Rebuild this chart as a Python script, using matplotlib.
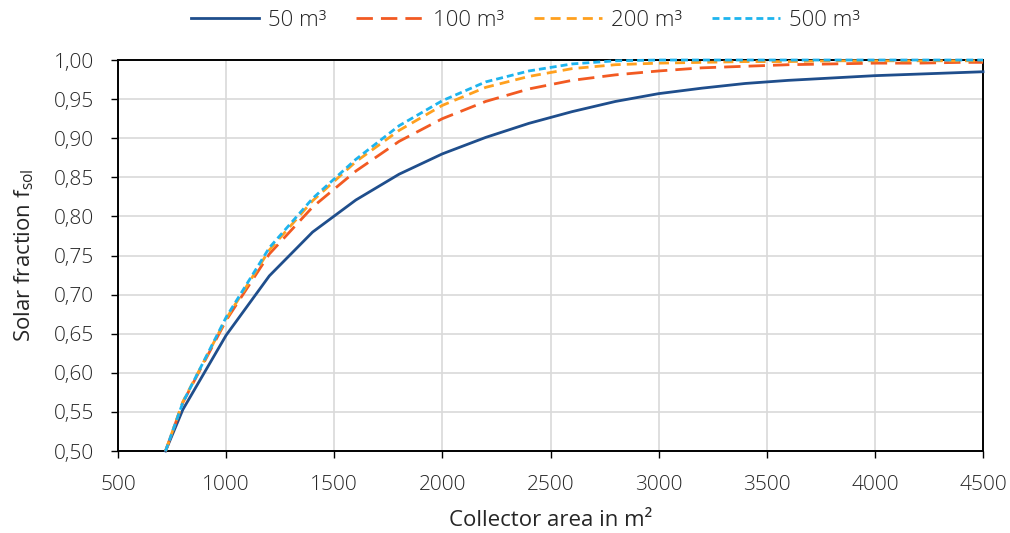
import matplotlib.pyplot as plt
from matplotlib.ticker import FuncFormatter

plt.rcParams["font.family"] = ["Open Sans", "DejaVu Sans"]
plt.rcParams["font.weight"] = "light"

area = [720, 800, 1000, 1200, 1400, 1600, 1800, 2000, 2200, 2400, 2600, 2800,
        3000, 3200, 3400, 3600, 3800, 4000, 4200, 4400, 4500]
f_50 = [0.500, 0.553, 0.648, 0.724, 0.780, 0.821, 0.854, 0.880, 0.901, 0.919,
        0.934, 0.947, 0.957, 0.964, 0.970, 0.974, 0.977, 0.980, 0.982, 0.984, 0.985]
f_100 = [0.500, 0.562, 0.667, 0.752, 0.812, 0.858, 0.896, 0.925, 0.947, 0.963,
         0.974, 0.981, 0.986, 0.990, 0.992, 0.994, 0.995, 0.996, 0.996, 0.997, 0.997]
f_200 = [0.500, 0.563, 0.669, 0.757, 0.820, 0.870, 0.910, 0.942, 0.965, 0.979,
         0.989, 0.994, 0.996, 0.997, 0.998, 0.998, 0.999, 0.999, 0.999, 0.999, 0.999]
f_500 = [0.500, 0.562, 0.671, 0.760, 0.823, 0.873, 0.916, 0.948, 0.972, 0.986,
         0.995, 0.999, 1.000, 1.000, 1.000, 1.000, 1.000, 1.000, 1.000, 1.000, 1.000]

labels = ["50 m³", "100 m³", "200 m³", "500 m³"]
text_col = "#262626"

fig = plt.figure(figsize=(10.1, 5.33), dpi=100)
ax = fig.add_axes([0.1168, 0.1538, 0.8565, 0.7336])

ax.plot(area, f_50, color="#1F4E8C", lw=2, label=labels[0], zorder=3, clip_on=False)
ax.plot(area, f_100, color="#F25A22", lw=2, dashes=(5.9, 2.9), label=labels[1], zorder=3, clip_on=False)
ax.plot(area, f_200, color="#FFA01E", lw=2, dashes=(3.6, 2.2), label=labels[2], zorder=3, clip_on=False)
ax.plot(area, f_500, color="#1EB4EE", lw=2, dashes=(2.5, 1.45), label=labels[3], zorder=3, clip_on=False)

ax.set_xlim(500, 4500)
ax.set_ylim(0.5, 1.0)
ax.set_xticks(range(500, 4501, 500))
ax.set_yticks([0.5 + 0.05 * i for i in range(11)])
ax.yaxis.set_major_formatter(FuncFormatter(lambda v, p: f"{v:.2f}".replace(".", ",")))
ax.grid(color="#d9d9d9", lw=1.2)
ax.set_axisbelow(True)
for s in ax.spines.values():
    s.set_color("black"); s.set_linewidth(1.4)
ax.tick_params(labelsize=15, length=5, width=1, color="black", labelcolor=text_col)
ax.tick_params(axis="y", pad=12)
ax.tick_params(axis="x", pad=12)

ax.set_xlabel("Collector area in m²", fontsize=16, color=text_col, labelpad=11)
ax.set_ylabel("Solar fraction f$_\\mathregular{sol}$", fontsize=16, color=text_col, labelpad=13)

fig.legend(loc="center", bbox_to_anchor=(0.52, 0.962), ncol=4, frameon=False,
           fontsize=16, handlelength=3.06, handletextpad=0.4, columnspacing=1.35,
           labelcolor=text_col)

fig.savefig("out.png", dpi=100)
